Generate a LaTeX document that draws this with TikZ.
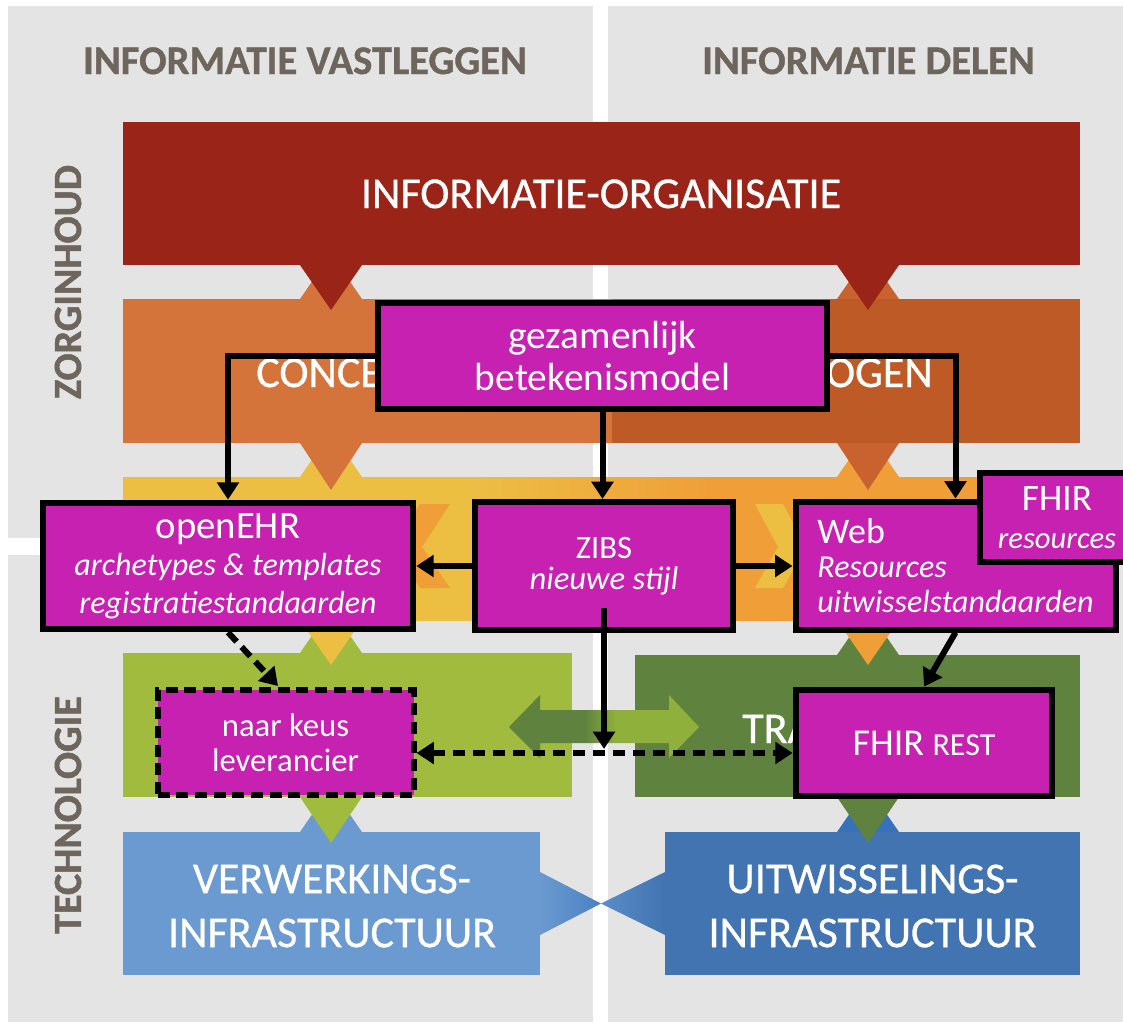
\documentclass[tikz,border=0pt]{standalone}
\usepackage{fontspec}
\setmainfont{Carlito}
\newfontfamily\bandfont[FakeBold=0.7]{Carlito}
\newfontfamily\lblfont[FakeBold=1.2]{Carlito Bold}
\newfontfamily\ttlfont[FakeBold=0.9]{Carlito Bold}
\usetikzlibrary{arrows.meta}
\definecolor{panel}{HTML}{E4E4E4}
\definecolor{ttlgrey}{HTML}{6E655D}
\definecolor{bandred}{HTML}{9B2419}
\definecolor{orgL}{HTML}{D4733A}
\definecolor{orgR}{HTML}{BE5A26}
\definecolor{orgT}{HTML}{C9622F}
\definecolor{yel}{HTML}{ECBF43}
\definecolor{yorg}{HTML}{F09E38}
\definecolor{lgreen}{HTML}{A0BB3D}
\definecolor{dgreen}{HTML}{5F833F}
\definecolor{agreen}{HTML}{8FB03B}
\definecolor{lblue}{HTML}{6A9ACF}
\definecolor{dblue}{HTML}{4274B1}
\definecolor{mblue}{HTML}{3572BB}
\definecolor{tipblueL}{HTML}{4A80C4}
\definecolor{tipblueR}{HTML}{5A8CC8}
\definecolor{mag}{HTML}{C621B0}
\pgfdeclarehorizontalshading{ybandshade}{100bp}{color(0bp)=(yel); color(43bp)=(yel); color(56bp)=(yorg); color(100bp)=(yorg)}
\pgfdeclarehorizontalshading{garrowshade}{100bp}{color(0bp)=(dgreen); color(45bp)=(dgreen); color(53bp)=(agreen); color(100bp)=(agreen)}
\begin{document}
\begin{tikzpicture}[x=0.75pt,y=-0.75pt,
  mbox/.style={draw=black, line width=4.5pt, fill=mag, text=white, inner sep=0pt, align=center},
  conn/.style={line width=4.5pt, -{Triangle[length=13pt,width=16pt]}},
  dconn/.style={conn, dash pattern=on 9.5pt off 5.5pt},
  ttl/.style={text=ttlgrey, font=\ttlfont\fontsize{30.5}{34}\selectfont, inner sep=0pt},
  vlbl/.style={text=ttlgrey, font=\lblfont\fontsize{30}{34}\selectfont, inner sep=0pt, rotate=90},
  bandtxt/.style={text=white, inner sep=0pt, font=\bandfont\fontsize{33}{40.5}\selectfont, align=center},
]
\useasboundingbox (0,0) rectangle (1123,1022);
\fill[white] (0,0) rectangle (1123,1022);
% grey panels
\fill[panel] (8,6) rectangle (593,538);
\fill[panel] (8,555) rectangle (593,1022);
\fill[panel] (608,6) rectangle (1123,538);
\fill[panel] (608,555) rectangle (1123,1022);
% titles
\node[ttl, anchor=base] (t1) at (305,74) {INFORMATIE VASTLEGGEN};
\node[ttl, anchor=base] (t2) at (868.5,74) {INFORMATIE DELEN};
\node[vlbl] (t3) at (68,282) {ZORGINHOUD};
\node[vlbl] (t4) at (68,815) {TECHNOLOGIE};
% bumps (upward triangles of lower bands)
\fill[orgL] (300,299) -- (362,299) -- (331,254) -- cycle;
\fill[orgT] (837,299) -- (899,299) -- (868,254) -- cycle;
\fill[yel] (300,477) -- (362,477) -- (331,432) -- cycle;
\fill[yorg] (837,477) -- (899,477) -- (868,432) -- cycle;
\fill[lgreen] (300,653) -- (362,653) -- (331,608) -- cycle;
\fill[dgreen] (837,655) -- (899,655) -- (868,610) -- cycle;
\fill[lblue] (300,832) -- (362,832) -- (331,787) -- cycle;
\fill[mblue] (837,832) -- (899,832) -- (868,787) -- cycle;
% bands
\fill[bandred] (123,122) rectangle (1080,265);
\fill[orgL] (123,299) rectangle (612,443);
\fill[orgR] (612,299) rectangle (1080,443);
\shade[shading=ybandshade] (123,477) rectangle (1080,620);
\fill[yorg] (420,504) -- (450,504) -- (422,547) -- (450,588) -- (420,588) -- (392,547) -- cycle;
\fill[yel] (755,504) -- (783,504) -- (806,547) -- (783,588) -- (755,588) -- (778,547) -- cycle;
\fill[lgreen] (123,653) rectangle (572,797);
\fill[dgreen] (635,655) rectangle (1080,797);
\fill[lblue] (123,832) rectangle (540,975);
\fill[dblue] (665,832) rectangle (1080,975);
\shade[left color=lblue, right color=tipblueL] (540,872) -- (601,903.5) -- (540,935) -- cycle;
\shade[left color=tipblueR, right color=dblue] (665,872) -- (601,903.5) -- (665,935) -- cycle;
% down triangles
\fill[bandred] (300,265) -- (362,265) -- (331,310) -- cycle;
\fill[bandred] (837,265) -- (899,265) -- (868,310) -- cycle;
\fill[orgL] (300,443) -- (362,443) -- (331,490) -- cycle;
\fill[orgT] (837,443) -- (899,443) -- (868,490) -- cycle;
\fill[yel] (300,620) -- (362,620) -- (331,665) -- cycle;
\fill[yorg] (837,620) -- (899,620) -- (868,665) -- cycle;
\fill[lgreen] (300,797) -- (362,797) -- (331,843) -- cycle;
\fill[dgreen] (837,797) -- (899,797) -- (868,843) -- cycle;
% green double arrow
\shade[shading=garrowshade] (509,727) -- (540,695) -- (540,710) -- (669,710) -- (669,695) -- (699,727) -- (669,758) -- (669,743) -- (540,743) -- (540,758) -- cycle;
% band texts
\node[bandtxt, anchor=base] (b1) at (601,208) {INFORMATIE-ORGANISATIE};
\node[bandtxt, anchor=base west] (b2) at (256,387) {CONCE};
\node[bandtxt, anchor=base east] (b3) at (933,387) {OGEN};
\node[bandtxt, anchor=base west] (b4) at (742,743) {TRA};
\node[bandtxt] (b5) at (332,906) {VERWERKINGS-\\INFRASTRUCTUUR};
\node[bandtxt] (b6) at (872.5,906) {UITWISSELINGS-\\INFRASTRUCTUUR};
% magenta boxes
\node[mbox, minimum width=337pt, minimum height=80pt, font=\fontsize{29.5}{32}\selectfont] (gez) at (602.5,356) {gezamenlijk\\betekenismodel};
\node[mbox, minimum width=278pt, minimum height=95pt, font=\fontsize{24}{28}\selectfont] (ehr) at (228,566) {{\fontsize{29}{28}\selectfont openEHR}\\\itshape archetypes \& templates\\\itshape registratiestandaarden};
\node[mbox, minimum width=194pt, minimum height=96pt, font=\fontsize{24.5}{23}\selectfont] (zibs) at (604,566) {ZIBS\\\itshape nieuwe stijl};
\node[mbox, minimum width=240pt, minimum height=96pt, align=left, font=\fontsize{24}{26}\selectfont] (web) at (955.5,565.5) {{\fontsize{27}{26}\selectfont Web}\\\itshape Resources\\\itshape uitwisselstandaarden};
\node[mbox, minimum width=116pt, minimum height=67pt, font=\fontsize{23}{28}\selectfont] (fhirres) at (1057,517.5) {{\fontsize{28}{28}\selectfont FHIR}\\\itshape resources};
\node[mbox, dash pattern=on 9pt off 5pt, minimum width=192pt, minimum height=79pt, font=\fontsize{24.5}{26}\selectfont] (keus) at (285.5,742.5) {naar keus\\leverancier};
\node[mbox, minimum width=192.5pt, minimum height=80pt, font=\fontsize{28.5}{30}\selectfont] (rest) at (924,743) {FHIR {\fontsize{24}{26}\selectfont REST}};
% helper coordinates
\coordinate (lvlA) at (0,608);
\coordinate (lvlB) at (0,749);
\coordinate (lvlC) at (0,753);
\coordinate (keustgt) at (278,686);
% connectors
\draw[conn] (gez.west) -| (ehr.north);
\draw[conn] (gez.south) -- (gez.south |- zibs.north);
\draw[conn] (gez.east) -| (web.north);
\draw[conn] (zibs.west) -- (zibs.west -| ehr.east);
\draw[conn] (zibs.east) -- (zibs.east -| web.west);
\draw[conn] (zibs.center |- lvlA) -- (zibs.center |- lvlB);
\draw[dconn, {Triangle[length=13pt,width=16pt]}-{Triangle[length=13pt,width=16pt]}] (keus.east |- lvlC) -- (rest.west |- lvlC);
\draw[dconn] (ehr.south) -- (keustgt);
\draw[conn] (web.south) -- (rest.north);
\end{tikzpicture}
\end{document}
